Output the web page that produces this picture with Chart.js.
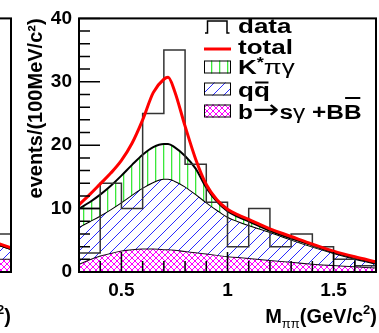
<!DOCTYPE html>
<html><head><meta charset="utf-8">
<script src="https://cdn.jsdelivr.net/npm/chart.js@4/dist/chart.umd.min.js"></script>
<style>
html,body{margin:0;padding:0;background:#fff;overflow:hidden;width:379px;height:333px;position:relative}
canvas{position:absolute;top:0}
#left{left:-365px}
#main{left:0}
</style></head><body>
<canvas id="left" width="379" height="333"></canvas>
<canvas id="main" width="379" height="333"></canvas>
<script>
// ---------- data ----------
const binEdges   = [0.3,0.4,0.5,0.6,0.7,0.8,0.9,1.0,1.1,1.2,1.3,1.4,1.5,1.6,1.7];
const dataCounts = [3,14,10,25,35,17,11,4,10,4,6,4,2,1];
const firstBinEdges = [0.3,0.4];
const firstBinLine  = [10,10];

const curveX   = [0.30,0.35,0.40,0.45,0.50,0.55,0.60,0.65,0.70,0.72,0.75,0.80,0.85,0.90,0.95,1.00,1.05,1.10,1.20,1.30,1.40,1.50,1.60,1.70];
const totalFit = [10.6,12.2,13.9,15.6,17.6,20.3,24.0,28.3,30.4,30.7,28.6,23.0,17.8,13.8,11.4,9.9,9.0,8.3,6.8,5.6,4.4,3.3,2.4,1.6];
const kstarTop = [10.0,11.0,12.2,13.6,15.2,16.9,18.5,19.7,20.2,20.2,19.7,18.3,16.3,13.3,11.1,9.6,8.7,8.0,6.5,5.3,4.2,3.1,2.2,1.4];
const qqTop    = [7.1,8.0,8.9,9.9,11.0,12.2,13.3,14.2,14.7,14.7,14.4,13.5,12.3,11.0,9.8,8.7,8.0,7.4,6.3,5.1,4.0,3.0,2.1,1.3];
const bbTop    = [1.3,2.0,2.6,3.0,3.4,3.6,3.7,3.7,3.6,3.6,3.5,3.3,3.1,2.9,2.7,2.5,2.35,2.2,1.9,1.6,1.3,1.1,0.9,0.7];

const yTickLabels = [0,10,20,30,40];
const xTickLabels = [0.5,1,1.5];

// neighbouring (cut-off) panel on the left
const leftX      = [1.6,1.7];
const leftTotal  = [5.0,3.8];
const leftQQ     = [4.8,3.6];
const leftBB     = [2.1,2.1];
const leftEdges  = [1.6,1.7];
const leftCounts = [6];

// ---------- helpers ----------
const FONT = "'Liberation Sans', Arial, Helvetica, 'DejaVu Sans', sans-serif";
function pts(xs, ys){ return xs.map((x,i)=>({x, y: ys[i]})); }
function histPts(edges, counts){
  const p = counts.map((c,i)=>({x: edges[i], y: c}));
  p.push({x: edges[edges.length-1], y: counts[counts.length-1]});
  return p;
}
function makePattern(kind){
  const c = document.createElement('canvas');
  const g = c.getContext('2d');
  let s;
  if (kind === 'green') {
    s = 8; c.width = s; c.height = s;
    g.fillStyle = '#fff'; g.fillRect(0,0,s,s);
    g.fillStyle = '#3be83b'; g.fillRect(3,0,1.3,s);
  } else if (kind === 'blue') {
    s = 11; c.width = s; c.height = s;
    g.fillStyle = '#fff'; g.fillRect(0,0,s,s);
    g.strokeStyle = '#2a2aff'; g.lineWidth = 1;
    g.beginPath();
    for (let k=-1;k<=1;k++){ g.moveTo(k*s, s); g.lineTo(k*s+s, 0); }
    g.stroke();
  } else {
    s = 6; c.width = s; c.height = s;
    g.fillStyle = '#fff'; g.fillRect(0,0,s,s);
    g.strokeStyle = '#ff00ff'; g.lineWidth = 1;
    g.beginPath();
    for (let k=-1;k<=1;k++){ g.moveTo(k*s, s); g.lineTo(k*s+s, 0); g.moveTo(k*s,0); g.lineTo(k*s+s, s); }
    g.stroke();
  }
  return document.createElement('canvas').getContext('2d').createPattern(c,'repeat');
}
const PAT = { green: makePattern('green'), blue: makePattern('blue'), mag: makePattern('mag') };

function drawRich(ctx, parts, x, y, align, sx){
  sx = sx || 1;
  let w = 0;
  parts.forEach(p=>{ ctx.font = p.f; p.w = ctx.measureText(p.t).width; w += p.w; });
  ctx.save();
  let x0 = align === 'right' ? x - w*sx : x;
  ctx.translate(x0, y); ctx.scale(sx,1);
  ctx.textAlign = 'left'; ctx.textBaseline = 'alphabetic'; ctx.fillStyle = '#000';
  let cx = 0;
  parts.forEach(p=>{
    ctx.font = p.f;
    ctx.fillText(p.t, cx, p.dy || 0);
    if (p.over){ ctx.fillRect(cx+1, -p.over, p.w-2, 2); }
    cx += p.w;
  });
  ctx.restore();
}

const decor = {
  id: 'decor',
  afterDatasetsDraw(chart, args, o){
    const ctx = chart.ctx, a = chart.chartArea;
    const xs = chart.scales.x, ys = chart.scales.y;
    ctx.save();
    ctx.strokeStyle = '#000'; ctx.lineWidth = 1.5;
    ctx.beginPath();
    for (let k=0;k<=40;k+=2){
      const yy = ys.getPixelForValue(k);
      const L = (k % 10 === 0) ? 21 : 11;
      ctx.moveTo(a.left, yy); ctx.lineTo(a.left+L, yy);
    }
    for (let k=3;k<=17;k++){
      const xx = xs.getPixelForValue(k/10);
      const L = (k % 5 === 0) ? 20 : 11;
      ctx.moveTo(xx, a.bottom); ctx.lineTo(xx, a.bottom-L);
    }
    ctx.stroke();
    ctx.lineWidth = 2;
    ctx.strokeRect(a.left, a.top, a.right-a.left, a.bottom-a.top);
    ctx.restore();
  },
  afterDraw(chart, args, o){
    const ctx = chart.ctx, a = chart.chartArea;
    // x axis title
    const B = 'bold 20px ' + FONT, Bs = 'bold 13px ' + FONT, Ns = '13px ' + FONT;
    drawRich(ctx, [
      {t:'M', f:B}, {t:'ππ', f:Ns, dy:5}, {t:'(GeV/c', f:B}, {t:'2', f:Bs, dy:-9}, {t:')', f:B}
    ], a.right + o.titleDx, 323, 'right');
    if (!o.legend) return;
    const LB = 'bold 20px ' + FONT, LN = '20px ' + FONT, LS = 'bold 14px ' + FONT;
    const LA = "26px 'DejaVu Sans', sans-serif";
    const tx = 238, sx = 1.3;
    const base = [33, 53.5, 74, 96.5, 119];
    ctx.save();
    // symbols
    ctx.strokeStyle = '#000'; ctx.lineWidth = 1.5;
    ctx.beginPath();
    ctx.moveTo(205,33); ctx.lineTo(207.5,33); ctx.lineTo(207.5,21); ctx.lineTo(227,21); ctx.lineTo(227,33); ctx.lineTo(229.5,33);
    ctx.stroke();
    ctx.strokeStyle = '#ff0000'; ctx.lineWidth = 3;
    ctx.beginPath(); ctx.moveTo(204,49); ctx.lineTo(231,49); ctx.stroke();
    [[PAT.green,60.5],[PAT.blue,82.5],[PAT.mag,104.5]].forEach(([p,t])=>{
      ctx.fillStyle = p; ctx.fillRect(204,t,27,13);
      ctx.strokeStyle = '#000'; ctx.lineWidth = 1; ctx.strokeRect(204.5,t+0.5,26,12);
    });
    ctx.restore();
    drawRich(ctx, [{t:'data', f:LB}], tx, base[0], 'left', sx);
    drawRich(ctx, [{t:'total', f:LB}], tx, base[1], 'left', sx);
    drawRich(ctx, [{t:'K', f:LB}, {t:'*', f:LS, dy:-7}, {t:'πγ', f:LN}], tx, base[2], 'left', sx);
    drawRich(ctx, [{t:'q', f:LB}, {t:'q', f:LB, over:15}], tx, base[3], 'left', sx);
    drawRich(ctx, [{t:'b', f:LB}, {t:'→', f:LA, dy:-1}, {t:'s', f:LB}, {t:'γ', f:LN}, {t:' +', f:LB}, {t:'B', f:LB}, {t:'B', f:LB, over:22}], tx, base[4], 'left', 1.22);
  }
};

function buildConfig(d, opts){
  const line = {pointRadius:0, pointHoverRadius:0, cubicInterpolationMode:'monotone'};
  return {
    type: 'line',
    data: { datasets: [
      Object.assign({label:'bb', data: pts(d.x, d.bb), borderColor:'#1a0a1a', borderWidth:2, backgroundColor: PAT.mag, fill:'origin', order:4}, line),
      Object.assign({label:'qq', data: pts(d.x, d.qq), borderColor:'#000', borderWidth:2, backgroundColor: PAT.blue, fill:0, order:3}, line),
      Object.assign({label:'kstar', data: pts(d.x, d.ks), borderColor:'#000', borderWidth:2, backgroundColor: PAT.green, fill:1, order:2}, line),
      Object.assign({label:'total', data: pts(d.x, d.tot), borderColor:'#ff0000', borderWidth:3, fill:false, order:0}, line),
      {label:'data', data: histPts(d.edges, d.counts), borderColor:'#333', borderWidth:1.5, fill:false, stepped:true, pointRadius:0, order:1},
      {label:'data2', data: d.extra ? pts(d.extra[0], d.extra[1]) : [], borderColor:'#333', borderWidth:1.5, fill:false, pointRadius:0, order:1}
    ]},
    options: {
      responsive:false, animation:false, events:[],
      layout:{padding:{left:0, right:3, top:7, bottom:0}},
      plugins:{legend:{display:false}, tooltip:{enabled:false}, decor: opts},
      scales:{
        x:{type:'linear', min:0.3, max:1.7,
           afterBuildTicks: s=>{ s.ticks = xTickLabels.map(v=>({value:v})); },
           grid:{display:false, drawTicks:false}, border:{display:false},
           ticks:{padding:7, autoSkip:false, maxRotation:0, color:'#000', font:{family:FONT, size:19, weight:'bold'}, callback: v=>String(v)},
           afterFit: s=>{ s.height = 61; }},
        y:{min:0, max:40,
           afterBuildTicks: s=>{ s.ticks = yTickLabels.map(v=>({value:v})); },
           grid:{display:false, drawTicks:false}, border:{display:false},
           ticks:{padding:7, color:'#000', font:{family:FONT, size:19, weight:'bold'}, callback: v=> opts.yLabels ? String(v) : ''},
           title:{display: opts.yLabels, text:'events/(100MeV/c²)', align:'end', color:'#000', font:{family:FONT, size:20, weight:'bold'}, padding:{top:24, bottom:0}},
           afterFit: s=>{ s.width = 79; }}
      }
    },
    plugins:[decor]
  };
}

new Chart(document.getElementById('left'), buildConfig(
  {x:leftX, bb:leftBB, qq:leftQQ, ks:leftQQ, tot:leftTotal, edges:leftEdges, counts:leftCounts},
  {legend:false, yLabels:false, titleDx:0}));
new Chart(document.getElementById('main'), buildConfig(
  {x:curveX, bb:bbTop, qq:qqTop, ks:kstarTop, tot:totalFit, edges:binEdges, counts:dataCounts, extra:[firstBinEdges, firstBinLine]},
  {legend:true, yLabels:true, titleDx:1}));
</script>
</body></html>
